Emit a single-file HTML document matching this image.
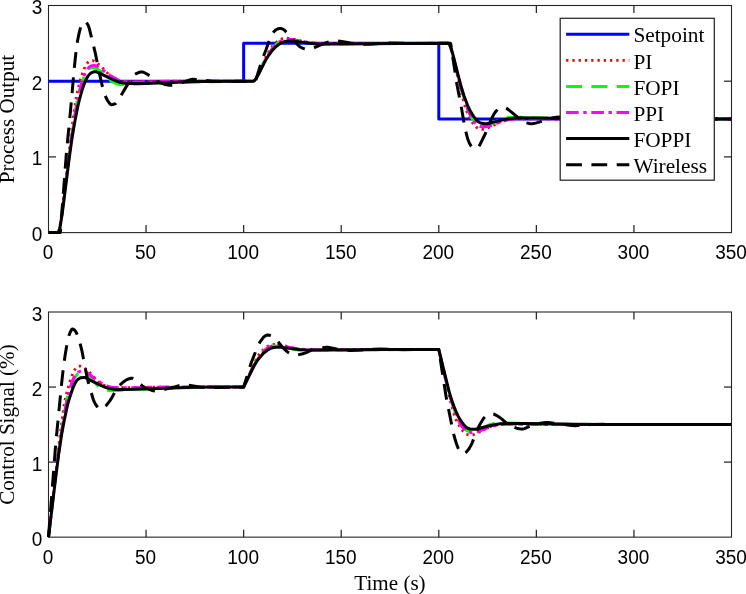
<!DOCTYPE html>
<html><head><meta charset="utf-8"><title>Process Output and Control Signal</title>
<style>html,body{margin:0;padding:0;background:#fff;}svg{display:block;}</style></head>
<body>
<svg width="746" height="594" viewBox="0 0 746 594">
<defs>
<clipPath id="ct"><rect x="46.5" y="3.5" width="687.0" height="231.1"/></clipPath>
<clipPath id="cb"><rect x="46.5" y="310.0" width="687.0" height="229.14999999999998"/></clipPath>
</defs>
<rect width="746" height="594" fill="#fff"/>
<rect x="48.5" y="5.5" width="683.0" height="227.1" fill="none" stroke="#262626" stroke-width="1.1"/>
<text transform="translate(48.00,259.20) scale(1.0,1.033)" text-anchor="middle" style="font-family:'Liberation Sans',Arial,sans-serif;font-size:19px">0</text>
<line x1="146.07" y1="232.6" x2="146.07" y2="225.1" stroke="#262626" stroke-width="1.25"/>
<line x1="146.07" y1="5.5" x2="146.07" y2="13.0" stroke="#262626" stroke-width="1.25"/>
<text transform="translate(145.57,259.20) scale(1.0,1.033)" text-anchor="middle" style="font-family:'Liberation Sans',Arial,sans-serif;font-size:19px">50</text>
<line x1="243.64" y1="232.6" x2="243.64" y2="225.1" stroke="#262626" stroke-width="1.25"/>
<line x1="243.64" y1="5.5" x2="243.64" y2="13.0" stroke="#262626" stroke-width="1.25"/>
<text transform="translate(243.14,259.20) scale(1.0,1.033)" text-anchor="middle" style="font-family:'Liberation Sans',Arial,sans-serif;font-size:19px">100</text>
<line x1="341.21" y1="232.6" x2="341.21" y2="225.1" stroke="#262626" stroke-width="1.25"/>
<line x1="341.21" y1="5.5" x2="341.21" y2="13.0" stroke="#262626" stroke-width="1.25"/>
<text transform="translate(340.71,259.20) scale(1.0,1.033)" text-anchor="middle" style="font-family:'Liberation Sans',Arial,sans-serif;font-size:19px">150</text>
<line x1="438.79" y1="232.6" x2="438.79" y2="225.1" stroke="#262626" stroke-width="1.25"/>
<line x1="438.79" y1="5.5" x2="438.79" y2="13.0" stroke="#262626" stroke-width="1.25"/>
<text transform="translate(438.29,259.20) scale(1.0,1.033)" text-anchor="middle" style="font-family:'Liberation Sans',Arial,sans-serif;font-size:19px">200</text>
<line x1="536.36" y1="232.6" x2="536.36" y2="225.1" stroke="#262626" stroke-width="1.25"/>
<line x1="536.36" y1="5.5" x2="536.36" y2="13.0" stroke="#262626" stroke-width="1.25"/>
<text transform="translate(535.86,259.20) scale(1.0,1.033)" text-anchor="middle" style="font-family:'Liberation Sans',Arial,sans-serif;font-size:19px">250</text>
<line x1="633.93" y1="232.6" x2="633.93" y2="225.1" stroke="#262626" stroke-width="1.25"/>
<line x1="633.93" y1="5.5" x2="633.93" y2="13.0" stroke="#262626" stroke-width="1.25"/>
<text transform="translate(633.43,259.20) scale(1.0,1.033)" text-anchor="middle" style="font-family:'Liberation Sans',Arial,sans-serif;font-size:19px">300</text>
<text transform="translate(731.00,259.20) scale(1.0,1.033)" text-anchor="middle" style="font-family:'Liberation Sans',Arial,sans-serif;font-size:19px">350</text>
<text transform="translate(42.3,241.10) scale(1.0,1.033)" text-anchor="end" style="font-family:'Liberation Sans',Arial,sans-serif;font-size:19px">0</text>
<line x1="48.5" y1="156.90" x2="56.0" y2="156.90" stroke="#262626" stroke-width="1.25"/>
<line x1="731.5" y1="156.90" x2="724.0" y2="156.90" stroke="#262626" stroke-width="1.25"/>
<text transform="translate(42.3,165.40) scale(1.0,1.033)" text-anchor="end" style="font-family:'Liberation Sans',Arial,sans-serif;font-size:19px">1</text>
<line x1="48.5" y1="81.20" x2="56.0" y2="81.20" stroke="#262626" stroke-width="1.25"/>
<line x1="731.5" y1="81.20" x2="724.0" y2="81.20" stroke="#262626" stroke-width="1.25"/>
<text transform="translate(42.3,89.70) scale(1.0,1.033)" text-anchor="end" style="font-family:'Liberation Sans',Arial,sans-serif;font-size:19px">2</text>
<text transform="translate(42.3,14.00) scale(1.0,1.033)" text-anchor="end" style="font-family:'Liberation Sans',Arial,sans-serif;font-size:19px">3</text>
<g clip-path="url(#ct)"><path d="M48.50,81.20 L243.64,81.20 L243.64,43.35 L438.79,43.35 L438.79,119.05 L731.50,119.05" fill="none" stroke="#0000ff" stroke-width="3.0" stroke-linejoin="round"/>
<path d="M48.50,232.60 L58.06,232.60 L58.65,231.72 L59.23,229.77 L60.60,222.44 L62.36,209.82 L65.87,180.63 L70.75,136.93 L74.26,109.89 L76.21,97.84 L77.77,90.30 L79.92,81.56 L81.67,75.47 L83.63,69.99 L85.38,65.97 L86.94,63.46 L87.92,62.38 L88.89,61.57 L89.87,61.01 L91.04,60.65 L92.41,60.57 L93.58,60.81 L94.75,61.34 L96.31,62.42 L99.43,64.99 L101.97,67.28 L106.85,72.53 L109.38,75.06 L111.14,76.56 L113.09,77.94 L115.24,79.19 L117.19,80.03 L119.73,80.72 L122.85,81.25 L127.92,81.59 L138.07,81.72 L174.76,81.21 L253.20,81.20 L253.99,80.84 L254.77,80.05 L255.74,78.66 L256.91,76.62 L260.62,69.05 L265.89,57.28 L269.21,50.88 L270.96,48.04 L273.69,44.79 L275.45,43.08 L277.21,41.62 L278.96,40.42 L280.72,39.45 L282.09,38.92 L283.65,38.52 L286.77,38.19 L289.89,38.39 L296.33,39.69 L303.75,41.63 L307.45,42.40 L312.14,43.04 L318.38,43.37 L333.21,43.48 L369.90,43.35 L448.35,43.35 L448.74,43.58 L449.13,44.06 L449.91,45.64 L450.88,48.43 L452.06,52.51 L455.76,67.65 L461.03,91.19 L464.54,104.70 L466.30,110.20 L467.67,113.62 L469.42,117.35 L471.18,120.63 L472.94,123.37 L474.69,125.60 L476.25,127.20 L477.81,128.26 L479.77,129.05 L481.33,129.33 L482.89,129.35 L484.25,129.17 L485.82,128.73 L492.06,126.10 L500.06,121.94 L502.21,121.08 L504.55,120.32 L506.50,119.82 L508.65,119.46 L514.70,118.94 L528.55,118.79 L566.21,119.05 L731.50,119.05" fill="none" stroke="#ff0000" stroke-width="2.8" stroke-linejoin="round" stroke-dasharray="2.3 3.97"/>
<path d="M48.50,232.60 L58.06,232.60 L58.65,231.73 L59.23,229.80 L60.40,223.77 L61.96,213.04 L67.43,168.13 L70.55,144.66 L75.62,110.37 L77.77,97.76 L79.14,91.68 L80.70,86.02 L82.45,80.64 L84.41,75.79 L86.16,72.41 L87.92,69.89 L88.70,69.13 L89.68,68.43 L90.65,67.97 L91.43,67.76 L92.99,67.72 L94.75,68.06 L96.51,68.70 L98.46,69.70 L100.21,70.82 L101.97,72.22 L104.90,74.98 L108.80,79.01 L111.53,81.22 L113.68,82.48 L116.02,83.48 L118.17,84.14 L120.31,84.44 L124.41,84.58 L130.07,84.55 L146.46,83.55 L157.58,83.03 L192.52,81.92 L221.40,81.44 L253.20,81.20 L253.79,80.98 L254.57,80.29 L256.33,77.72 L257.89,74.80 L262.18,65.86 L264.72,60.98 L270.18,51.61 L272.52,48.00 L273.69,46.58 L274.87,45.41 L277.99,42.94 L279.55,42.00 L281.11,41.24 L282.67,40.64 L284.04,40.29 L285.79,40.04 L287.55,39.97 L292.23,40.29 L296.72,41.02 L304.14,42.85 L306.87,43.39 L311.36,43.94 L315.65,44.16 L325.21,44.19 L352.53,43.81 L387.27,43.53 L448.35,43.35 L448.93,43.79 L449.71,45.17 L450.49,47.19 L451.47,50.31 L453.42,57.71 L457.71,75.59 L460.06,84.50 L465.52,103.18 L467.86,110.27 L469.03,113.01 L470.40,115.63 L472.16,118.49 L473.72,120.61 L475.47,122.56 L477.23,124.07 L478.59,124.91 L480.16,125.49 L481.72,125.77 L483.47,125.78 L485.62,125.53 L487.77,125.07 L490.11,124.37 L492.06,123.62 L499.28,120.05 L502.21,118.91 L504.35,118.31 L507.09,117.77 L509.04,117.52 L511.57,117.40 L520.36,117.37 L553.72,118.25 L597.63,118.84 L639.59,119.04 L731.50,119.05" fill="none" stroke="#00ff00" stroke-width="3.0" stroke-linejoin="round" stroke-dasharray="16 9.3"/>
<path d="M48.50,232.60 L58.06,232.60 L58.65,231.73 L59.23,229.80 L60.40,223.77 L61.96,213.04 L67.62,166.58 L71.14,140.50 L74.84,116.05 L77.58,100.75 L79.33,92.66 L81.48,83.98 L83.04,78.66 L84.60,74.44 L86.36,70.87 L88.11,68.29 L89.09,67.31 L90.26,66.44 L91.24,65.96 L92.41,65.64 L93.97,65.56 L95.53,65.77 L97.09,66.29 L98.85,67.16 L101.58,68.95 L106.85,73.12 L109.77,75.20 L112.90,77.14 L117.58,79.62 L119.34,80.36 L121.09,80.89 L123.43,81.35 L126.17,81.70 L130.46,81.92 L141.39,81.95 L157.58,81.51 L181.39,81.25 L253.20,81.20 L253.79,80.98 L254.57,80.29 L256.13,78.05 L257.89,74.80 L262.18,65.86 L265.11,60.27 L268.82,53.91 L272.13,48.99 L275.26,45.39 L277.01,43.69 L278.38,42.57 L279.94,41.55 L281.50,40.77 L283.06,40.18 L284.62,39.80 L287.94,39.45 L292.04,39.60 L295.94,40.15 L305.11,41.88 L311.16,42.76 L315.65,43.23 L321.90,43.49 L448.35,43.35 L448.93,43.79 L449.71,45.17 L451.27,49.65 L453.23,56.92 L457.91,76.36 L460.45,85.92 L464.35,99.18 L467.47,108.29 L469.03,112.03 L470.98,116.15 L472.55,119.06 L474.11,121.44 L475.67,123.29 L477.42,124.85 L478.99,125.81 L480.94,126.54 L482.30,126.79 L483.86,126.87 L485.62,126.79 L487.38,126.51 L491.08,125.45 L500.45,121.92 L507.09,120.03 L509.43,119.51 L511.57,119.18 L518.21,118.73 L532.84,118.68 L549.04,118.90 L580.65,119.04 L731.50,119.05" fill="none" stroke="#ff00ff" stroke-width="3.0" stroke-linejoin="round" stroke-dasharray="12.6 4.6 3.4 4.6"/>
<path d="M48.50,232.60 L58.26,232.60 L58.65,232.17 L59.23,230.62 L59.82,228.24 L60.60,224.13 L62.36,212.48 L69.19,158.56 L71.92,138.89 L74.65,122.43 L77.97,105.66 L79.72,98.39 L82.26,89.57 L84.21,83.81 L86.16,79.14 L87.92,76.12 L89.87,73.86 L90.85,73.08 L91.82,72.54 L92.99,72.10 L94.36,71.78 L95.92,71.76 L97.87,72.42 L111.34,78.95 L117.78,81.62 L119.92,82.28 L122.46,82.86 L125.00,83.29 L127.14,83.50 L136.51,83.62 L145.29,83.51 L191.54,81.81 L203.83,81.47 L227.25,81.23 L253.40,81.20 L253.99,80.99 L254.77,80.33 L256.52,77.87 L258.67,73.97 L264.13,63.07 L266.28,59.10 L268.82,55.04 L271.94,50.86 L274.87,47.65 L277.01,45.76 L278.96,44.27 L280.72,43.16 L282.09,42.46 L283.84,41.82 L285.60,41.39 L288.53,41.05 L291.45,41.01 L312.33,43.40 L317.41,43.76 L322.68,43.93 L340.63,43.93 L398.78,43.42 L448.54,43.35 L449.13,43.77 L449.91,45.09 L451.47,49.38 L453.62,57.05 L459.28,79.61 L461.42,87.55 L464.15,96.24 L467.47,104.99 L469.03,108.52 L470.79,111.88 L472.94,115.49 L474.89,118.25 L476.45,120.08 L478.01,121.45 L479.77,122.53 L481.72,123.28 L484.64,123.76 L486.79,123.70 L490.50,122.91 L501.82,120.13 L507.67,118.91 L513.33,118.16 L518.60,117.87 L535.38,117.89 L585.34,118.80 L604.07,118.98 L731.50,119.05" fill="none" stroke="#000000" stroke-width="3.0" stroke-linejoin="round"/>
<path d="M48.50,232.60 L60.21,232.60 L60.40,231.87 L66.45,152.36 L70.75,108.14 L74.06,70.28 L75.43,56.78 L76.60,47.15 L77.38,41.78 L78.55,35.66 L79.72,30.55 L80.70,27.31 L81.87,24.81 L83.43,22.29 L84.02,21.71 L84.60,21.42 L85.19,21.47 L85.77,21.83 L86.94,23.25 L88.31,25.56 L89.28,28.47 L95.14,52.32 L98.65,69.67 L101.19,81.44 L102.94,88.48 L104.12,92.59 L105.87,97.23 L107.43,100.38 L109.77,103.55 L110.56,104.29 L111.34,104.65 L112.90,104.51 L114.85,103.91 L115.63,103.42 L116.60,102.34 L120.90,95.65 L130.46,79.61 L133.58,75.39 L134.56,74.51 L136.70,73.33 L138.66,72.51 L140.41,72.06 L141.58,71.96 L142.56,72.06 L143.73,72.39 L145.10,73.00 L149.58,75.63 L153.49,78.73 L155.05,79.80 L157.78,81.29 L162.85,83.68 L165.20,84.53 L169.49,85.15 L171.24,85.21 L172.81,85.10 L177.88,84.09 L180.03,83.43 L189.59,79.94 L191.15,79.50 L192.52,79.32 L195.83,79.38 L201.10,79.72 L210.86,81.09 L218.66,81.43 L229.98,81.57 L243.64,81.20 L255.35,81.20 L255.74,80.55 L261.60,61.14 L266.08,49.56 L269.60,39.57 L270.77,36.82 L271.74,34.84 L272.72,33.21 L273.89,31.73 L275.06,30.51 L276.04,29.75 L277.60,28.99 L278.77,28.57 L279.94,28.40 L280.92,28.51 L282.28,28.94 L283.45,29.44 L284.43,30.17 L290.28,36.13 L296.33,43.41 L299.26,46.20 L300.82,47.24 L302.38,48.06 L304.72,48.88 L306.28,49.20 L309.99,49.03 L311.75,48.63 L316.04,46.96 L325.60,42.95 L328.73,41.90 L331.85,41.38 L335.56,41.06 L337.70,41.06 L340.24,41.30 L344.73,41.96 L350.19,43.00 L358.00,43.97 L360.34,44.18 L364.63,44.34 L367.95,44.32 L373.02,44.07 L384.73,43.03 L387.66,42.88 L413.81,43.41 L450.49,43.35 L450.69,43.72 L450.88,44.66 L456.74,83.47 L461.03,105.58 L464.35,124.51 L465.72,131.26 L467.67,138.76 L468.84,141.82 L470.01,144.37 L470.79,145.71 L471.57,146.68 L473.33,148.24 L474.69,148.91 L475.28,148.94 L475.86,148.81 L477.03,148.17 L478.59,146.87 L479.57,145.42 L485.42,133.49 L488.94,124.81 L491.47,118.93 L493.23,115.41 L494.40,113.35 L496.16,111.03 L497.72,109.46 L500.06,107.88 L500.84,107.51 L501.62,107.32 L503.18,107.39 L505.13,107.70 L505.91,107.94 L506.89,108.48 L511.18,111.83 L520.75,119.85 L523.87,121.95 L524.84,122.40 L527.38,123.08 L529.33,123.46 L531.09,123.65 L533.23,123.58 L535.58,123.10 L539.87,121.84 L545.33,119.75 L553.14,117.81 L555.68,117.37 L560.55,117.05 L563.68,117.14 L568.36,117.63 L580.07,119.71 L583.00,119.99 L591.97,119.77 L601.93,119.07 L614.80,118.87 L633.93,119.05 L731.50,119.05" fill="none" stroke="#000000" stroke-width="3.0" stroke-linejoin="round" stroke-dasharray="15.8 9.5"/></g>
<text transform="translate(14.4,119.05) rotate(-90)" text-anchor="middle" style="font-family:'Liberation Serif','Times New Roman',serif;font-size:21.1px">Process Output</text>
<rect x="48.5" y="312.0" width="683.0" height="225.14999999999998" fill="none" stroke="#262626" stroke-width="1.1"/>
<text transform="translate(48.00,563.75) scale(1.0,1.033)" text-anchor="middle" style="font-family:'Liberation Sans',Arial,sans-serif;font-size:19px">0</text>
<line x1="146.07" y1="537.15" x2="146.07" y2="529.65" stroke="#262626" stroke-width="1.25"/>
<line x1="146.07" y1="312.0" x2="146.07" y2="319.5" stroke="#262626" stroke-width="1.25"/>
<text transform="translate(145.57,563.75) scale(1.0,1.033)" text-anchor="middle" style="font-family:'Liberation Sans',Arial,sans-serif;font-size:19px">50</text>
<line x1="243.64" y1="537.15" x2="243.64" y2="529.65" stroke="#262626" stroke-width="1.25"/>
<line x1="243.64" y1="312.0" x2="243.64" y2="319.5" stroke="#262626" stroke-width="1.25"/>
<text transform="translate(243.14,563.75) scale(1.0,1.033)" text-anchor="middle" style="font-family:'Liberation Sans',Arial,sans-serif;font-size:19px">100</text>
<line x1="341.21" y1="537.15" x2="341.21" y2="529.65" stroke="#262626" stroke-width="1.25"/>
<line x1="341.21" y1="312.0" x2="341.21" y2="319.5" stroke="#262626" stroke-width="1.25"/>
<text transform="translate(340.71,563.75) scale(1.0,1.033)" text-anchor="middle" style="font-family:'Liberation Sans',Arial,sans-serif;font-size:19px">150</text>
<line x1="438.79" y1="537.15" x2="438.79" y2="529.65" stroke="#262626" stroke-width="1.25"/>
<line x1="438.79" y1="312.0" x2="438.79" y2="319.5" stroke="#262626" stroke-width="1.25"/>
<text transform="translate(438.29,563.75) scale(1.0,1.033)" text-anchor="middle" style="font-family:'Liberation Sans',Arial,sans-serif;font-size:19px">200</text>
<line x1="536.36" y1="537.15" x2="536.36" y2="529.65" stroke="#262626" stroke-width="1.25"/>
<line x1="536.36" y1="312.0" x2="536.36" y2="319.5" stroke="#262626" stroke-width="1.25"/>
<text transform="translate(535.86,563.75) scale(1.0,1.033)" text-anchor="middle" style="font-family:'Liberation Sans',Arial,sans-serif;font-size:19px">250</text>
<line x1="633.93" y1="537.15" x2="633.93" y2="529.65" stroke="#262626" stroke-width="1.25"/>
<line x1="633.93" y1="312.0" x2="633.93" y2="319.5" stroke="#262626" stroke-width="1.25"/>
<text transform="translate(633.43,563.75) scale(1.0,1.033)" text-anchor="middle" style="font-family:'Liberation Sans',Arial,sans-serif;font-size:19px">300</text>
<text transform="translate(731.00,563.75) scale(1.0,1.033)" text-anchor="middle" style="font-family:'Liberation Sans',Arial,sans-serif;font-size:19px">350</text>
<text transform="translate(42.3,545.65) scale(1.0,1.033)" text-anchor="end" style="font-family:'Liberation Sans',Arial,sans-serif;font-size:19px">0</text>
<line x1="48.5" y1="462.10" x2="56.0" y2="462.10" stroke="#262626" stroke-width="1.25"/>
<line x1="731.5" y1="462.10" x2="724.0" y2="462.10" stroke="#262626" stroke-width="1.25"/>
<text transform="translate(42.3,470.60) scale(1.0,1.033)" text-anchor="end" style="font-family:'Liberation Sans',Arial,sans-serif;font-size:19px">1</text>
<line x1="48.5" y1="387.05" x2="56.0" y2="387.05" stroke="#262626" stroke-width="1.25"/>
<line x1="731.5" y1="387.05" x2="724.0" y2="387.05" stroke="#262626" stroke-width="1.25"/>
<text transform="translate(42.3,395.55) scale(1.0,1.033)" text-anchor="end" style="font-family:'Liberation Sans',Arial,sans-serif;font-size:19px">2</text>
<text transform="translate(42.3,320.50) scale(1.0,1.033)" text-anchor="end" style="font-family:'Liberation Sans',Arial,sans-serif;font-size:19px">3</text>
<g clip-path="url(#cb)"><path d="M48.50,537.15 L55.92,472.35 L59.43,439.59 L64.50,402.50 L65.67,396.98 L67.82,388.78 L70.36,380.03 L72.11,375.20 L74.45,370.23 L75.82,368.03 L76.41,367.51 L77.58,366.84 L78.55,366.41 L79.53,366.16 L80.70,366.15 L82.45,366.54 L83.24,366.90 L84.21,367.59 L91.04,373.72 L92.41,375.11 L96.11,379.35 L98.85,381.96 L100.80,383.47 L103.53,385.09 L105.68,386.06 L107.43,386.53 L111.14,387.14 L114.65,387.42 L126.75,387.58 L163.44,387.05 L243.64,387.05 L251.06,370.85 L254.57,362.66 L259.45,353.66 L261.40,351.43 L265.69,347.62 L268.04,346.12 L270.18,345.05 L271.35,344.67 L274.87,344.30 L278.38,344.49 L285.99,346.15 L291.26,347.60 L295.55,348.56 L300.82,349.28 L306.67,349.56 L322.09,349.66 L358.58,349.53 L438.79,349.52 L446.20,381.92 L449.71,398.30 L454.59,416.30 L455.57,418.77 L456.74,421.15 L460.06,427.10 L461.42,429.23 L462.98,431.18 L465.33,433.52 L466.30,434.19 L467.86,434.68 L469.42,434.98 L470.79,435.04 L472.74,434.83 L474.11,434.46 L481.72,431.05 L486.01,428.63 L488.55,427.39 L490.50,426.57 L492.84,425.83 L496.74,424.95 L503.38,424.43 L517.23,424.31 L554.70,424.57 L731.50,424.57" fill="none" stroke="#ff0000" stroke-width="2.8" stroke-linejoin="round" stroke-dasharray="2.3 3.97"/>
<path d="M48.50,537.15 L55.13,479.29 L57.09,463.59 L60.99,436.10 L65.48,406.90 L66.65,400.05 L67.43,396.43 L68.60,392.41 L71.33,384.79 L73.09,380.64 L74.84,377.39 L76.99,374.55 L77.97,373.76 L79.72,373.26 L80.89,373.17 L82.26,373.45 L84.80,374.37 L86.94,375.50 L89.48,377.17 L90.85,378.30 L94.75,382.19 L97.68,385.36 L99.24,386.74 L101.38,388.09 L103.34,389.02 L106.46,390.03 L108.41,390.40 L118.75,390.39 L134.95,389.37 L144.90,388.91 L179.64,387.80 L210.47,387.28 L243.64,387.05 L250.28,372.59 L252.03,369.03 L255.94,362.11 L261.40,353.31 L262.18,352.29 L263.16,351.33 L267.06,348.58 L269.79,347.19 L272.72,346.26 L276.23,346.06 L281.11,346.50 L285.79,347.29 L294.58,349.48 L298.48,350.02 L303.55,350.36 L313.89,350.36 L340.04,349.99 L374.78,349.71 L438.79,349.52 L445.42,378.45 L447.37,386.31 L451.08,399.40 L456.74,417.56 L457.52,419.48 L458.50,421.29 L462.59,426.93 L463.96,428.37 L465.33,429.55 L467.08,430.71 L468.25,431.22 L470.01,431.47 L471.57,431.49 L474.30,431.07 L476.45,430.57 L480.94,429.04 L488.16,425.32 L489.72,424.66 L493.62,423.59 L496.94,423.06 L498.89,422.89 L509.43,422.91 L526.40,423.44 L547.87,423.89 L586.70,424.37 L628.85,424.57 L731.50,424.57" fill="none" stroke="#00ff00" stroke-width="3.0" stroke-linejoin="round" stroke-dasharray="16 9.3"/>
<path d="M48.50,537.15 L55.13,479.29 L57.09,463.59 L61.77,430.92 L64.11,416.43 L65.87,406.48 L67.23,400.01 L68.79,393.68 L71.33,384.39 L72.89,379.86 L73.87,377.75 L74.84,375.99 L76.99,373.15 L78.16,372.14 L79.53,371.53 L80.70,371.20 L81.87,371.16 L83.63,371.43 L85.19,371.84 L86.55,372.48 L89.68,374.47 L95.33,379.10 L97.87,380.91 L101.58,383.20 L106.26,385.62 L108.02,386.40 L109.58,386.90 L114.46,387.57 L118.17,387.80 L130.85,387.80 L145.49,387.36 L170.07,387.10 L243.64,387.05 L250.28,372.59 L252.03,369.03 L256.52,361.13 L260.23,355.45 L261.60,353.65 L262.96,352.15 L267.06,348.39 L268.23,347.61 L269.60,346.92 L272.91,345.86 L276.23,345.55 L280.52,345.74 L284.43,346.31 L291.45,347.72 L297.50,348.67 L303.94,349.43 L310.19,349.67 L438.79,349.52 L445.42,378.45 L447.18,385.57 L451.67,401.36 L455.57,413.28 L456.74,416.32 L458.30,419.73 L461.03,424.88 L462.40,427.14 L463.57,428.61 L465.13,430.10 L467.08,431.42 L468.64,432.08 L470.20,432.40 L471.57,432.53 L475.67,432.14 L479.77,430.94 L485.62,428.55 L488.35,427.58 L491.86,426.50 L495.96,425.43 L500.06,424.63 L506.89,424.23 L521.92,424.20 L535.97,424.42 L568.95,424.57 L731.50,424.57" fill="none" stroke="#ff00ff" stroke-width="3.0" stroke-linejoin="round" stroke-dasharray="12.6 4.6 3.4 4.6"/>
<path d="M48.50,537.15 L55.13,482.43 L58.84,452.91 L61.57,434.76 L64.31,420.09 L66.65,408.93 L68.01,403.19 L69.77,397.31 L73.09,387.50 L75.23,382.85 L76.60,380.67 L77.77,379.54 L79.14,378.49 L80.11,377.95 L81.09,377.67 L83.82,377.39 L85.19,377.47 L87.53,378.85 L97.68,383.92 L103.53,386.52 L106.85,387.79 L108.60,388.32 L112.70,389.09 L115.63,389.42 L127.53,389.45 L133.97,389.34 L179.83,387.66 L191.93,387.32 L216.13,387.07 L243.64,387.05 L253.60,366.72 L255.94,362.66 L258.28,359.26 L262.77,353.94 L264.13,352.71 L266.67,350.74 L268.23,349.64 L270.57,348.38 L271.74,347.93 L273.69,347.49 L276.04,347.19 L280.13,347.12 L298.67,349.39 L303.75,349.84 L310.97,350.12 L329.12,350.10 L387.07,349.59 L438.79,349.52 L448.93,390.92 L451.47,399.53 L453.81,406.11 L456.54,412.73 L458.10,416.13 L459.47,418.53 L462.59,423.30 L464.54,425.67 L466.30,427.36 L467.86,428.24 L470.01,429.03 L472.35,429.33 L475.47,429.36 L477.81,428.68 L488.55,426.00 L495.96,424.42 L500.06,423.82 L506.50,423.38 L523.67,423.42 L574.02,424.34 L593.73,424.51 L731.50,424.57" fill="none" stroke="#000000" stroke-width="3.0" stroke-linejoin="round"/>
<path d="M48.50,537.15 L55.72,443.81 L61.57,384.01 L62.75,373.12 L63.92,363.71 L65.28,354.29 L66.45,347.27 L68.01,339.09 L68.99,335.49 L70.16,332.29 L71.72,329.51 L72.11,329.06 L72.50,328.89 L73.28,329.11 L74.06,329.67 L75.04,330.59 L75.82,331.73 L76.80,333.70 L77.97,336.51 L79.33,340.63 L81.87,350.57 L86.55,374.60 L87.72,380.00 L89.87,388.14 L93.38,399.73 L94.16,401.66 L94.94,403.18 L96.11,405.20 L97.09,406.57 L97.87,407.39 L99.04,408.21 L100.21,408.86 L101.19,409.16 L102.16,409.07 L103.14,408.44 L106.07,405.61 L108.21,403.08 L109.97,400.66 L112.12,397.18 L116.41,389.49 L118.36,386.91 L120.31,384.71 L122.65,382.55 L125.97,380.11 L127.73,379.24 L131.05,378.27 L132.61,378.27 L133.97,378.89 L142.36,385.85 L143.73,386.82 L145.10,387.59 L147.44,388.73 L149.58,389.59 L153.29,390.77 L155.24,391.15 L157.78,391.05 L161.88,390.35 L167.54,388.55 L175.15,387.00 L178.86,385.64 L181.98,385.06 L184.32,384.82 L185.88,384.82 L187.64,385.00 L199.54,386.95 L208.32,387.45 L216.13,387.57 L243.64,387.05 L250.86,363.71 L256.72,348.77 L257.89,346.04 L259.06,343.69 L260.43,341.34 L263.16,337.53 L264.13,336.64 L265.50,335.73 L267.06,335.08 L267.84,334.99 L269.40,335.22 L270.96,335.69 L273.11,336.89 L274.48,337.92 L277.01,340.41 L282.87,347.76 L284.82,349.63 L288.33,352.56 L289.70,353.37 L292.04,354.34 L293.40,354.68 L295.75,355.02 L296.92,355.06 L298.09,354.91 L302.77,353.72 L306.09,352.54 L311.55,350.13 L315.65,348.89 L321.31,347.76 L326.19,347.33 L327.75,347.33 L329.12,347.49 L337.51,349.22 L340.24,349.66 L344.73,350.16 L350.39,350.55 L357.02,350.35 L362.68,349.90 L370.29,349.51 L374.00,349.17 L379.46,348.97 L394.68,349.50 L403.46,349.63 L438.79,349.52 L446.01,396.20 L452.84,430.69 L454.01,435.51 L455.37,440.32 L456.54,443.92 L458.10,448.10 L458.89,449.72 L460.25,451.73 L461.62,453.04 L462.59,453.63 L463.18,453.63 L463.96,453.42 L465.33,452.81 L465.91,452.40 L468.06,450.09 L469.42,448.11 L470.79,445.64 L472.16,442.81 L476.84,430.80 L478.01,428.10 L480.16,424.03 L483.67,418.24 L485.23,416.51 L487.38,414.82 L489.13,414.06 L491.28,413.54 L492.25,413.53 L493.43,413.88 L496.35,415.30 L498.30,416.43 L501.62,418.86 L506.70,423.36 L508.65,424.64 L510.79,425.85 L513.72,427.14 L516.65,428.16 L519.38,428.71 L521.72,428.99 L523.09,428.94 L524.45,428.59 L532.65,425.18 L535.38,424.31 L540.26,423.24 L543.97,422.66 L545.92,422.51 L548.46,422.60 L552.16,422.93 L557.82,423.82 L565.24,424.57 L569.34,425.31 L575.00,425.70 L577.92,425.60 L590.02,424.62 L602.71,424.32 L633.93,424.57 L731.50,424.57" fill="none" stroke="#000000" stroke-width="3.0" stroke-linejoin="round" stroke-dasharray="15.8 9.5"/></g>
<text transform="translate(14.4,424.57) rotate(-90)" text-anchor="middle" style="font-family:'Liberation Serif','Times New Roman',serif;font-size:21.1px">Control Signal (%)</text>
<text x="390.00" y="589.8" text-anchor="middle" style="font-family:'Liberation Serif','Times New Roman',serif;font-size:21.1px">Time (s)</text>
<rect x="560.2" y="18.3" width="154.0999999999999" height="161.89999999999998" fill="#fff" stroke="#262626" stroke-width="1.25"/>
<line x1="566.1" y1="34.20" x2="629.3" y2="34.20" stroke="#0000ff" stroke-width="3.0"/>
<text x="633.4" y="42.40" style="font-family:'Liberation Serif','Times New Roman',serif;font-size:21.3px">Setpoint</text>
<line x1="566.1" y1="60.30" x2="629.3" y2="60.30" stroke="#ff0000" stroke-width="2.8" stroke-dasharray="2.3 3.97"/>
<text x="633.4" y="68.50" style="font-family:'Liberation Serif','Times New Roman',serif;font-size:21.3px">PI</text>
<line x1="566.1" y1="86.40" x2="629.3" y2="86.40" stroke="#00ff00" stroke-width="3.0" stroke-dasharray="16 9.3"/>
<text x="633.4" y="94.60" style="font-family:'Liberation Serif','Times New Roman',serif;font-size:21.3px">FOPI</text>
<line x1="566.1" y1="112.50" x2="629.3" y2="112.50" stroke="#ff00ff" stroke-width="3.0" stroke-dasharray="12.6 4.6 3.4 4.6"/>
<text x="633.4" y="120.70" style="font-family:'Liberation Serif','Times New Roman',serif;font-size:21.3px">PPI</text>
<line x1="566.1" y1="138.60" x2="629.3" y2="138.60" stroke="#000000" stroke-width="3.0"/>
<text x="633.4" y="146.80" style="font-family:'Liberation Serif','Times New Roman',serif;font-size:21.3px">FOPPI</text>
<line x1="566.1" y1="164.70" x2="629.3" y2="164.70" stroke="#000000" stroke-width="3.0" stroke-dasharray="15.8 9.5"/>
<text x="633.4" y="172.90" style="font-family:'Liberation Serif','Times New Roman',serif;font-size:21.3px">Wireless</text>
</svg>
</body></html>
